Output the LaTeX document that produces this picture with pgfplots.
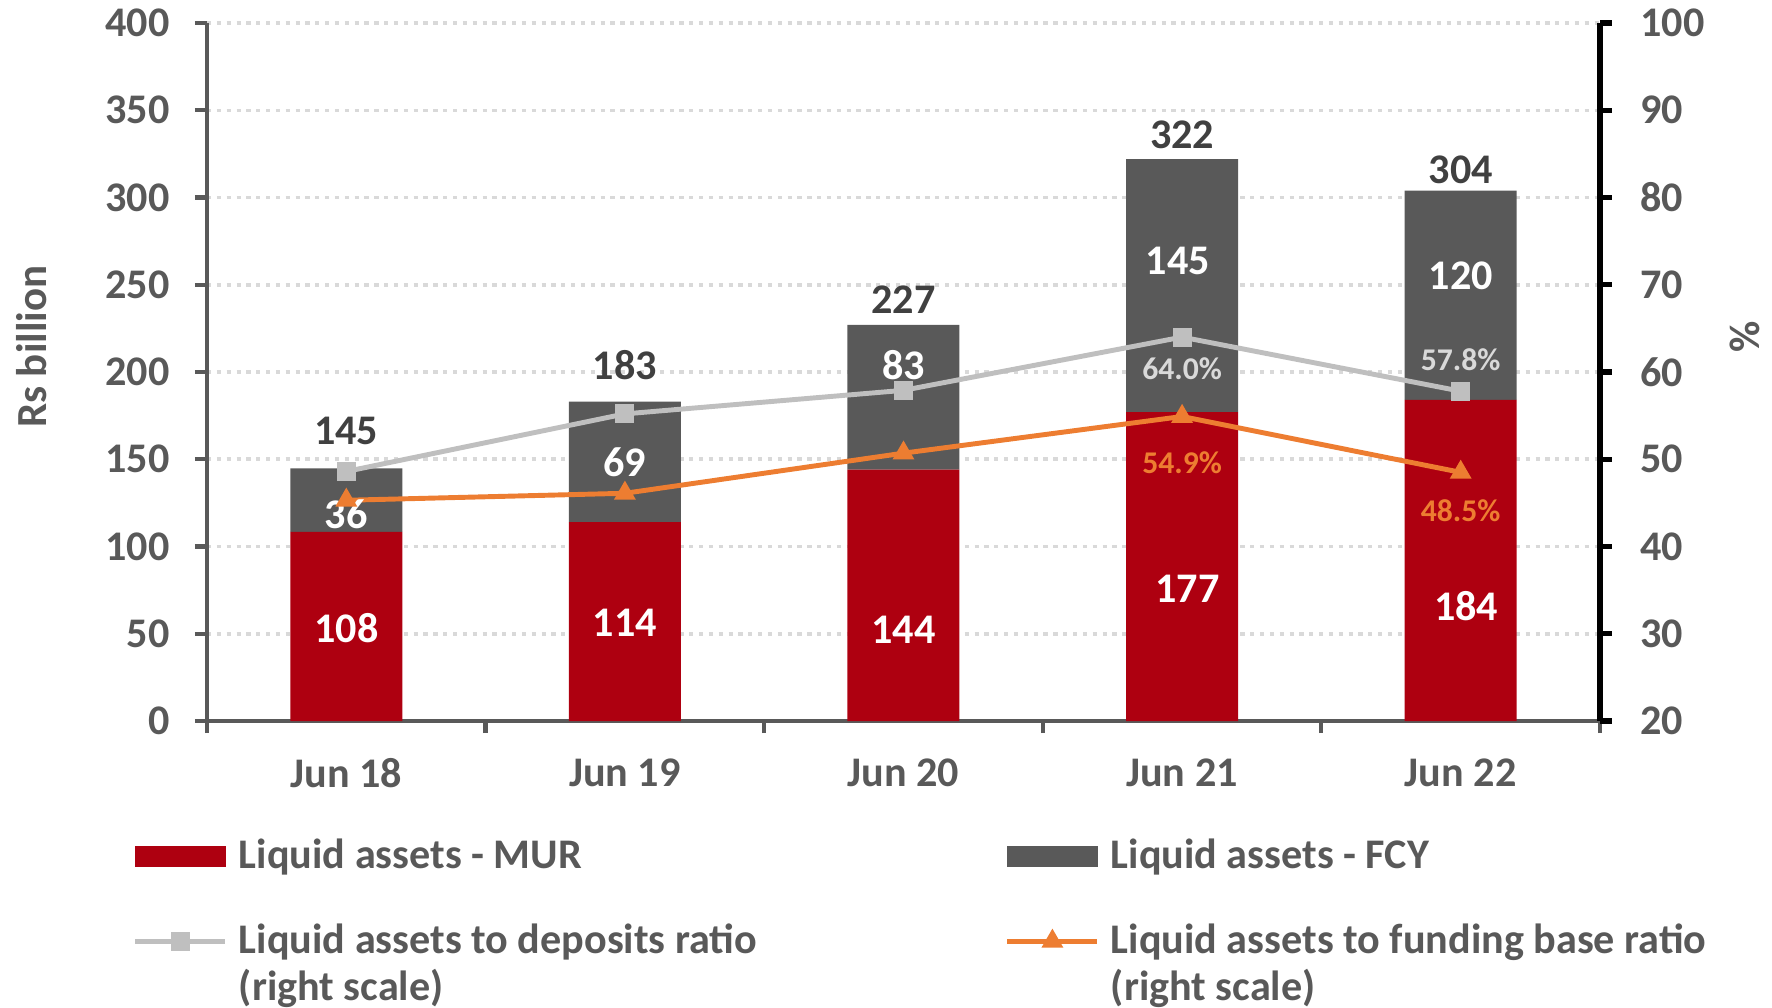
\documentclass[border=0pt]{standalone}
\usepackage{pgfplots}
\pgfplotsset{compat=1.18}
\usepackage{fontspec}
\setmainfont{Carlito}

\definecolor{murred}{RGB}{174,0,16}
\definecolor{fcygray}{RGB}{89,89,89}
\definecolor{depgray}{RGB}{191,191,191}
\definecolor{orng}{RGB}{237,125,49}
\definecolor{txtgray}{RGB}{89,89,89}
\definecolor{totgray}{RGB}{64,64,64}
\definecolor{gridgray}{RGB}{217,217,217}
\definecolor{pctgray}{RGB}{217,217,217}

\newcommand{\lblfont}{\fontsize{12}{14}\selectfont\bfseries}
\newcommand{\pctfont}{\fontsize{9}{11}\selectfont\bfseries}
\newcommand{\ttlfont}{\fontsize{12.2}{14}\selectfont\bfseries}

\pgfplotsset{
  common/.style={
    scale only axis, width=13.93cm, height=6.98cm,
    xmin=-0.5, xmax=4.5,
    tick align=outside, major tick length=0.12cm,
    tick label style={font=\lblfont, text=txtgray},
    /pgf/number format/assume math mode=true,
  },
  legline/.style={legend image code/.code={%
    \draw[mark repeat=2,mark phase=2,##1] plot coordinates {(0cm,0cm) (0.45cm,0cm) (0.9cm,0cm)};}},
  legbar/.style={legend image code/.code={%
    \fill[#1] (0cm,-0.1cm) rectangle (0.9cm,0.1cm);}},
}

\begin{document}
\begin{tikzpicture}
\useasboundingbox (-2.07,-2.86) rectangle (15.65,7.21);
\begin{axis}[common,
  ymin=0, ymax=400, ytick={0,50,...,400},
  axis x line*=bottom, axis y line*=left,
  axis line style={draw=txtgray, line width=1.2pt, -},
  tick style={draw=txtgray, line width=1.2pt},
  yticklabel style={xshift=-0.13cm},
  xtick={-0.5,0.5,...,4.5}, xticklabels={},
  extra x ticks={0,1,2,3,4},
  extra x tick labels={Jun 18,Jun 19,Jun 20,Jun 21,Jun 22},
  extra x tick style={major tick length=0pt, tick label style={yshift=-0.25cm}},
  ymajorgrids, grid style={draw=gridgray, line width=1pt, dash pattern=on 1.2pt off 1.6pt},
  ybar stacked, bar width=1.12cm,
  ylabel={Rs billion},
  every axis y label/.style={at={(axis description cs:-0.126,0.536)}, rotate=90, anchor=center,
    font=\ttlfont, text=txtgray},
]
\addplot[fill=murred, draw=none] coordinates {(0,108.4) (1,114) (2,144) (3,177) (4,184)};
\addplot[fill=fcygray, draw=none] coordinates {(0,36.4) (1,69) (2,83) (3,145) (4,120)};
% totals
\node[font=\lblfont, text=totgray] at (axis cs:0,166.3) {145};
\node[font=\lblfont, text=totgray] at (axis cs:1,203.9) {183};
\node[font=\lblfont, text=totgray] at (axis cs:2,241.4) {227};
\node[font=\lblfont, text=totgray] at (axis cs:3,335.9) {322};
\node[font=\lblfont, text=totgray] at (axis cs:4,315.9) {304};
\end{axis}

\begin{axis}[common,
  ymin=20, ymax=100, ytick={20,30,...,100},
  axis x line=none, axis y line*=right,
  axis line style={draw=black, line width=1.5pt, -},
  tick style={draw=black, line width=1.5pt},
  yticklabel style={xshift=0.16cm},
  ylabel={\%},
  every axis y label/.style={at={(axis description cs:1.104,0.55)}, rotate=90, anchor=center,
    font=\ttlfont, text=txtgray},
  legend columns=2,
  legend cell align=left,
  legend style={at={(axis description cs:-0.0531,-0.169)}, anchor=north west,
    draw=none, fill=none, inner sep=0pt, outer sep=0pt,
    nodes={inner sep=0pt, text=txtgray},
    font=\fontsize{12}{13.5}\selectfont\bfseries,
    column sep=0.11cm, row sep=0.5cm},
]
\addlegendimage{legbar=murred}
\addlegendentry{\parbox[t]{7.55cm}{Liquid assets - MUR}}
\addlegendimage{legbar=fcygray}
\addlegendentry{\parbox[t]{6.4cm}{Liquid assets - FCY}}
\addplot[color=depgray, line width=1.4pt, mark=square*, mark size=2pt, legline]
  coordinates {(0,48.6) (1,55.2) (2,57.9) (3,64.0) (4,57.8)};
\addlegendentry{\parbox[t]{7.55cm}{Liquid assets to deposits ratio\\(right scale)}}
\addplot[color=orng, line width=1.4pt, mark=triangle*, mark size=2.2pt, legline]
  coordinates {(0,45.3) (1,46.1) (2,50.7) (3,54.9) (4,48.5)};
\addlegendentry{\parbox[t]{6.4cm}{Liquid assets to funding base ratio\\(right scale)}}
% bar labels (positions on the right scale: right = 20 + left/5)
\node[font=\lblfont, text=white] at (axis cs:0,43.68) {36};
\node[font=\lblfont, text=white] at (axis cs:1,49.64) {69};
\node[font=\lblfont, text=white] at (axis cs:2,60.78) {83};
\node[font=\lblfont, text=white] at (axis cs:2.985,72.68) {145};
\node[font=\lblfont, text=white] at (axis cs:4,71) {120};
\node[font=\lblfont, text=white] at (axis cs:0,30.6) {108};
\node[font=\lblfont, text=white] at (axis cs:1,31.26) {114};
\node[font=\lblfont, text=white] at (axis cs:2,30.48) {144};
\node[font=\lblfont, text=white] at (axis cs:3.02,35.14) {177};
\node[font=\lblfont, text=white] at (axis cs:4.02,33.2) {184};
\node[font=\pctfont, text=pctgray] at (axis cs:3,60.4) {64.0\%};
\node[font=\pctfont, text=pctgray] at (axis cs:4,61.4) {57.8\%};
\node[font=\pctfont, text=orng] at (axis cs:3,49.6) {54.9\%};
\node[font=\pctfont, text=orng] at (axis cs:4,44.1) {48.5\%};
\end{axis}
\end{tikzpicture}
\end{document}
